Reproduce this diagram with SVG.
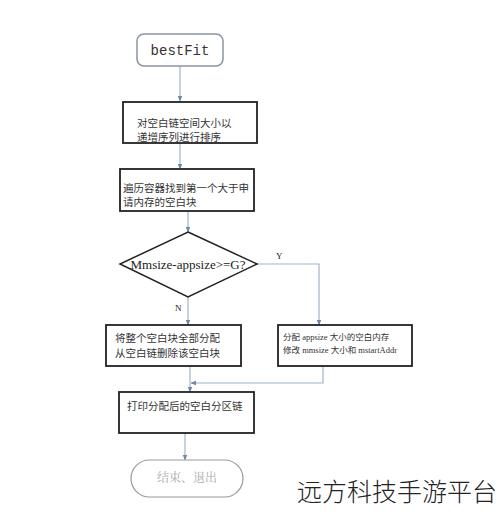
<svg xmlns="http://www.w3.org/2000/svg" width="500" height="512" viewBox="0 0 500 512">
<style>
.box{fill:#fff;stroke:#222;stroke-width:1.8}
.cn{font-family:"Noto Sans CJK SC","Noto Sans",sans-serif;font-size:10.5px;fill:#333}
.ser{font-family:"Liberation Serif","Noto Sans CJK SC",serif;fill:#222}
.con{fill:none;stroke:#9fb4cc;stroke-width:1.2}
</style>
<defs>
<marker id="ah" viewBox="0 0 10 10" refX="9" refY="5" markerWidth="5" markerHeight="5" orient="auto">
<path d="M0,1 L10,5 L0,9 z" fill="#6f87a3"/>
</marker>
</defs>
<rect width="500" height="512" fill="#fff"/>
<g id="connectors">
<line class="con" x1="180" y1="66" x2="180" y2="101" marker-end="url(#ah)"/>
<line class="con" x1="180" y1="143" x2="180" y2="169" marker-end="url(#ah)"/>
<line class="con" x1="188" y1="211" x2="188" y2="232" marker-end="url(#ah)"/>
<polyline class="con" points="257,264 319,264 319,325" marker-end="url(#ah)"/>
<line class="con" x1="188" y1="297" x2="188" y2="325" marker-end="url(#ah)"/>
<line class="con" x1="190" y1="366" x2="190" y2="392" marker-end="url(#ah)"/>
<polyline class="con" points="323,366 323,383 191,383" marker-end="url(#ah)"/>
<line class="con" x1="185" y1="433" x2="185" y2="460" marker-end="url(#ah)"/>
</g>
<g id="start">
<rect x="137" y="34" width="86" height="32" rx="7" fill="#fff" stroke="#8a94a3" stroke-width="1.5"/>
<text x="180" y="55" text-anchor="middle" font-family="Liberation Mono,monospace" font-size="14" fill="#333">bestFit</text>
</g>
<g id="sort">
<rect class="box" x="123" y="102" width="134" height="41"/>
<text class="cn" x="137" y="127">对空白链空间大小以</text>
<text class="cn" x="137" y="141">递增序列进行排序</text>
</g>
<g id="find">
<rect class="box" x="120" y="169" width="134" height="42"/>
<text class="cn" x="123" y="192">遍历容器找到第一个大于申</text>
<text class="cn" x="123" y="206">请内存的空白块</text>
</g>
<g id="decision">
<polygon points="188,232 257,264 188,297 120,264" fill="#fff" stroke="#222" stroke-width="1.5"/>
<text class="ser" x="188" y="269" text-anchor="middle" font-size="13">Mmsize-appsize&gt;=G?</text>
</g>
<text class="ser" x="276" y="259" font-size="9">Y</text>
<text class="ser" x="175" y="311" font-size="9">N</text>
<g id="allocAll">
<rect class="box" x="106" y="325" width="135" height="41"/>
<text class="cn" x="115" y="342" font-size="11.5">将整个空白块全部分配</text>
<text class="cn" x="115" y="357" font-size="11.5">从空白链删除该空白块</text>
</g>
<g id="allocPart">
<rect class="box" x="278" y="325" width="134" height="41"/>
<text x="283" y="340" font-family="Liberation Serif,'Noto Sans CJK SC',serif" font-size="8.5" fill="#333">分配 appsize 大小的空白内存</text>
<text x="283" y="353" font-family="Liberation Serif,'Noto Sans CJK SC',serif" font-size="8.5" fill="#333">修改 mmsize 大小和 mstartAddr</text>
</g>
<g id="print">
<rect class="box" x="119" y="392" width="135" height="41"/>
<text class="cn" x="127" y="410">打印分配后的空白分区链</text>
</g>
<g id="end">
<rect x="131" y="460" width="112" height="37" rx="18.5" fill="#fff" stroke="#999" stroke-width="1.2"/>
<text x="187" y="482" text-anchor="middle" font-family="'Noto Serif CJK SC','Noto Sans CJK SC',serif" font-size="12" fill="#aaa">结束、退出</text>
</g>
<text x="297" y="501" font-family="'Noto Sans CJK SC',sans-serif" font-size="25" fill="#222" font-weight="300">远方科技手游平台</text>
</svg>
